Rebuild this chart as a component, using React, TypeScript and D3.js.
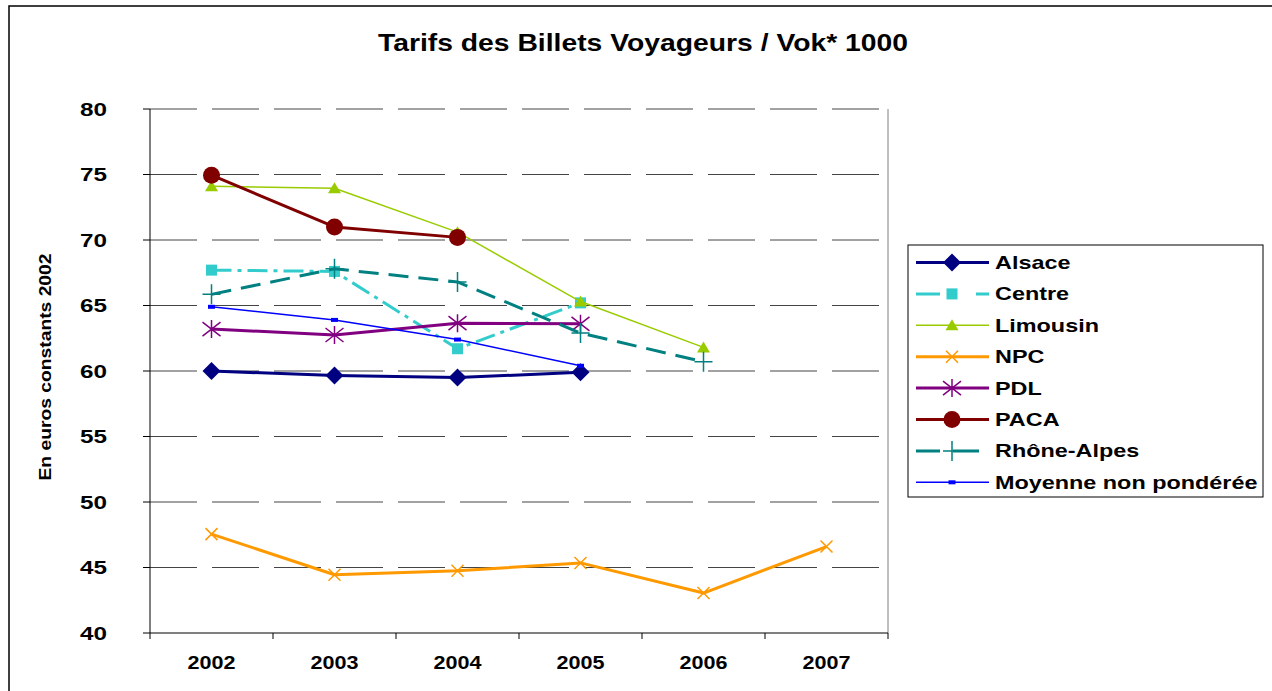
import React from "react";
import * as d3 from "d3";

const years = ["2002", "2003", "2004", "2005", "2006", "2007"];
const yTicks = [40, 45, 50, 55, 60, 65, 70, 75, 80];

const alsace = [60.0, 59.65, 59.5, 59.9, null, null];
const centre = [67.7, 67.6, 61.7, 65.2, null, null];
const limousin = [74.1, 73.95, 70.6, 65.3, 61.8, null];
const npc = [47.55, 44.45, 44.75, 45.35, 43.05, 46.6];
const pdl = [63.2, 62.75, 63.65, 63.6, null, null];
const paca = [74.95, 71.0, 70.2, null, null, null];
const rhoneAlpes = [65.85, 67.8, 66.8, 62.9, 60.7, null];
const moyenne = [64.9, 63.9, 62.4, 60.4, null, null];

const seriesNames = ["Alsace", "Centre", "Limousin", "NPC", "PDL", "PACA", "Rhône-Alpes", "Moyenne non pondérée"];
const seriesValues = [alsace, centre, limousin, npc, pdl, paca, rhoneAlpes, moyenne];

type Style = { color: string; width: number; dash?: string; legendDash?: string; marker: string };
const styles: Style[] = [
  { color: "#000080", width: 3, marker: "diamond" },
  { color: "#33CCCC", width: 3, dash: "20,6,4,6", legendDash: "24,36", marker: "square" },
  { color: "#99CC00", width: 1.5, marker: "triangle" },
  { color: "#FF9900", width: 3, marker: "x" },
  { color: "#800080", width: 3, marker: "star" },
  { color: "#800000", width: 3, marker: "circle" },
  { color: "#008080", width: 3, dash: "20,10", legendDash: "24,13,26,100", marker: "plus" },
  { color: "#0000FF", width: 1.5, marker: "dash" },
];

const FONT = "'Liberation Sans', Arial, sans-serif";

function Marker({ type, cx, cy, color }: { type: string; cx: number; cy: number; color: string }) {
  const t = `translate(${cx},${cy})`;
  switch (type) {
    case "diamond":
      return <path transform={t} d="M0,-9L9,0L0,9L-9,0Z" fill={color} />;
    case "square":
      return <rect x={cx - 5.5} y={cy - 5.5} width={11} height={11} fill={color} />;
    case "triangle":
      return <path transform={t} d="M0,-6L6.5,5L-6.5,5Z" fill={color} />;
    case "x":
      return <path transform={t} d="M-6,-6L6,6M-6,6L6,-6" stroke={color} strokeWidth={1.5} fill="none" />;
    case "star":
      return <path transform={t} d="M-9,-7L9,7M-9,7L9,-7M0,-9L0,9" stroke={color} strokeWidth={1.5} fill="none" />;
    case "circle":
      return <circle cx={cx} cy={cy} r={8.5} fill={color} />;
    case "plus":
      return <path transform={t} d="M-9,0L9,0M0,-10L0,10" stroke={color} strokeWidth={1.5} fill="none" />;
    case "dash":
      return <rect x={cx - 3.5} y={cy - 2} width={7} height={4} fill={color} />;
    default:
      return null;
  }
}

export default function App() {
  const W = 1272, H = 691;
  const left = 150, right = 888, top = 109, bottom = 633;
  const x = d3.scaleBand<string>().domain(years).range([left, right]).padding(0);
  const y = d3.scaleLinear().domain([40, 80]).range([bottom, top]);
  const cx = (yr: string) => (x(yr) as number) + x.bandwidth() / 2;

  const line = d3
    .line<[string, number | null]>()
    .defined((d) => d[1] != null)
    .x((d) => cx(d[0]))
    .y((d) => y(d[1] as number));

  const boundaries = [...years.map((yr) => x(yr) as number), right];

  const legX = 908, legY = 245, legW = 355, legH = 252;
  const rowY = (i: number) => 262.5 + i * 31.4;

  return (
    <div style={{ position: "absolute", left: 0, top: 0 }}>
      <svg width={W} height={H} style={{ display: "block", background: "#fff" }}>
        <rect x={9} y={6} width={1400} height={800} fill="#fff" stroke="#000" strokeWidth={1.5} />
        <text x={643} y={51} textAnchor="middle" fontFamily={FONT} fontWeight="bold" fontSize={24} textLength={530} lengthAdjust="spacingAndGlyphs">
          Tarifs des Billets Voyageurs / Vok* 1000
        </text>

        {yTicks.filter((v) => v > 40).map((v) => (
          <line key={v} x1={left} x2={right} y1={y(v)} y2={y(v)} stroke="#444" strokeWidth={1} strokeDasharray="47,15" />
        ))}
        <line x1={right} x2={right} y1={top} y2={bottom} stroke="#808080" strokeWidth={1} />

        <line x1={left} x2={left} y1={top} y2={bottom} stroke="#000" strokeWidth={1} />
        <line x1={left} x2={right} y1={bottom} y2={bottom} stroke="#000" strokeWidth={1} />
        {yTicks.map((v) => (
          <g key={v}>
            <line x1={left - 7} x2={left} y1={y(v)} y2={y(v)} stroke="#000" />
            <text x={107} y={y(v) + 6.5} textAnchor="end" fontFamily={FONT} fontWeight="bold" fontSize={18} textLength={27} lengthAdjust="spacingAndGlyphs">
              {v}
            </text>
          </g>
        ))}
        {boundaries.map((b, i) => (
          <line key={i} x1={b} x2={b} y1={bottom} y2={bottom + 6} stroke="#000" />
        ))}
        {years.map((yr) => (
          <text key={yr} x={cx(yr)} y={669} textAnchor="middle" fontFamily={FONT} fontWeight="bold" fontSize={19} textLength={48} lengthAdjust="spacingAndGlyphs">
            {yr}
          </text>
        ))}
        <text transform="translate(51,367) rotate(-90)" textAnchor="middle" fontFamily={FONT} fontWeight="bold" fontSize={16} textLength={227} lengthAdjust="spacingAndGlyphs">
          En euros constants 2002
        </text>

        {seriesValues.map((vals, i) => {
          const st = styles[i];
          const pts = years.map((yr, j) => [yr, vals[j]] as [string, number | null]);
          return (
            <g key={seriesNames[i]}>
              <path d={line(pts) as string} fill="none" stroke={st.color} strokeWidth={st.width} strokeDasharray={st.dash} strokeLinejoin="round" />
              {pts.filter((p) => p[1] != null).map((p) => (
                <Marker key={p[0]} type={st.marker} cx={cx(p[0])} cy={y(p[1] as number)} color={st.color} />
              ))}
            </g>
          );
        })}

        <rect x={legX} y={legY} width={legW} height={legH} fill="#fff" stroke="#000" strokeWidth={1} />
        {seriesNames.map((name, i) => {
          const st = styles[i];
          const ry = rowY(i);
          return (
            <g key={name}>
              <line x1={916} x2={989} y1={ry} y2={ry} stroke={st.color} strokeWidth={st.width} strokeDasharray={st.legendDash} />
              <Marker type={st.marker} cx={952} cy={ry} color={st.color} />
              <g transform={`translate(995,${ry + 6.5}) scale(1.3,1)`}>
                <text x={0} y={0} fontFamily={FONT} fontWeight="bold" fontSize={18}>
                  {name}
                </text>
              </g>
            </g>
          );
        })}
      </svg>
    </div>
  );
}
